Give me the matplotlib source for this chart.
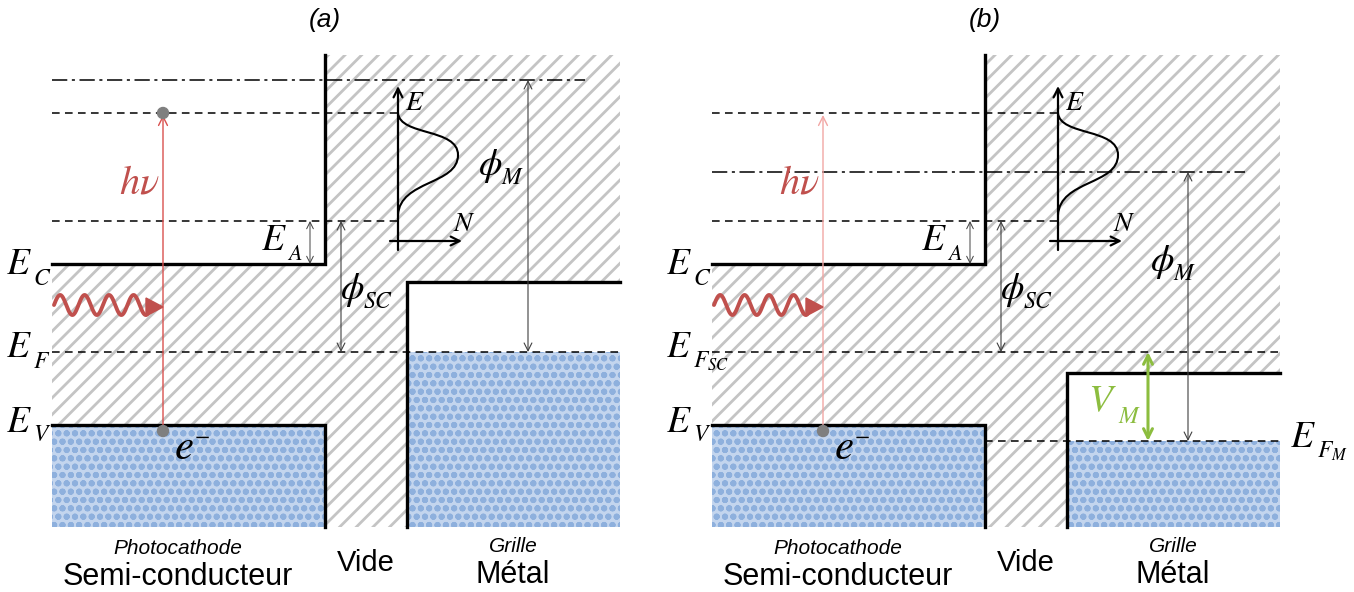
import matplotlib
matplotlib.use('Agg')
import matplotlib.pyplot as plt
from matplotlib.patches import Polygon, Rectangle, FancyArrowPatch, PathPatch, Circle
from matplotlib.path import Path
import numpy as np

plt.rcParams['mathtext.fontset'] = 'stix'
plt.rcParams['hatch.linewidth'] = 2.0

# ---------------- data: energy levels (vertical position, top = high energy) ----
panel_titles = ['(a)', '(b)']
panel_offsets = [0, 660]
E_excited = [113, 113]      # excited electron level (dashed)
E_vac_metal = [80, 172]     # metal vacuum level (dash-dot)
E_vac_sc = [221, 221]       # SC vacuum level (dashed)
E_C = [264, 264]            # conduction band
E_F_sc = [352, 352]         # SC Fermi level
E_V = [425, 425]            # valence band
E_metal_top = [282, 373]    # metal band top
E_F_metal = [352, 441]      # metal Fermi level
show_top_dot = [True, False]
photon_colors = ['#d9504e', '#f2a6a4']
fermi_subs = [r'$F$', r'$F_{SC}$']

# DOS curve control points (x, y) relative to panel
dos_path_pts = [(398, 113), (400, 136), (458, 128), (458, 155),
                (458, 185), (400, 180), (398, 215)]

# ---------------- layout -------------------------------------------------------
x_left, x_sc, x_metal, x_right = 52, 325, 407, 620
y_top, y_bot = 55, 527

fig = plt.figure(figsize=(13.54, 5.92), dpi=100)
ax = fig.add_axes([0, 0, 1, 1])
ax.set_xlim(0, 1354)
ax.set_ylim(592, 0)
ax.axis('off')

hatch_gray = '#c4c4c4'
blue_face = '#c3d5ee'
blue_hatch = '#8eb0dd'
sans = 'Liberation Sans'

def arrow(x0, y0, x1, y1, style='->', color='#404040', lw=0.8, ms=14, z=6):
    a = FancyArrowPatch((x0, y0), (x1, y1), arrowstyle=style, mutation_scale=ms,
                        color=color, lw=lw, shrinkA=0, shrinkB=0, zorder=z)
    ax.add_patch(a)

def label(x, y, main, sub, size=25, subsize=16, dx=None, dy=12, color='black'):
    ax.text(x, y, '$' + main + '$', fontsize=size, ha='left', va='center', color=color, zorder=8)
    if dx is None:
        dx = size * 1.05
    ax.text(x + dx, y + dy, sub, fontsize=subsize, ha='left', va='center', color=color, zorder=8)

for i, off in enumerate(panel_offsets):
    X = lambda v: v + off
    # hatched region (band gap of SC + vacuum)
    poly = [(X(x_left), E_C[i]), (X(x_sc), E_C[i]), (X(x_sc), y_top), (X(x_right), y_top),
            (X(x_right), E_metal_top[i]), (X(x_metal), E_metal_top[i]), (X(x_metal), y_bot),
            (X(x_left), y_bot)]
    ax.add_patch(Polygon(poly, closed=True, facecolor='white', edgecolor=hatch_gray,
                         hatch='//', lw=0, zorder=1))
    # valence band filled
    ax.add_patch(Rectangle((X(x_left), E_V[i]), x_sc - x_left, y_bot - E_V[i],
                           facecolor=blue_face, edgecolor=blue_hatch, hatch='oo', lw=0, zorder=2))
    # metal: empty part + filled part
    ax.add_patch(Rectangle((X(x_metal), E_metal_top[i]), x_right - x_metal,
                           E_F_metal[i] - E_metal_top[i], facecolor='white', lw=0, zorder=2))
    ax.add_patch(Rectangle((X(x_metal), E_F_metal[i]), x_right - x_metal,
                           y_bot - E_F_metal[i], facecolor=blue_face, edgecolor=blue_hatch,
                           hatch='oo', lw=0, zorder=2))
    # thick band edges
    ax.plot([X(x_left), X(x_sc), X(x_sc)], [E_C[i], E_C[i], y_top], color='black', lw=2.4,
            solid_joinstyle='miter', zorder=5)
    ax.plot([X(x_left), X(x_sc), X(x_sc)], [E_V[i], E_V[i], y_bot], color='black', lw=2.4,
            solid_joinstyle='miter', zorder=5)
    ax.plot([X(x_metal), X(x_metal), X(x_right)], [y_bot, E_metal_top[i], E_metal_top[i]],
            color='black', lw=2.4, solid_joinstyle='miter', zorder=5)
    # dashed levels
    dkw = dict(color='black', lw=1.1, dashes=(5, 3.5), zorder=4)
    ax.plot([X(x_left), X(400)], [E_excited[i]] * 2, **dkw)
    ax.plot([X(x_left), X(400)], [E_vac_sc[i]] * 2, **dkw)
    ax.plot([X(x_left), X(x_right)], [E_F_sc[i]] * 2, **dkw)
    if E_F_metal[i] != E_F_sc[i]:
        ax.plot([X(x_sc), X(x_right)], [E_F_metal[i]] * 2, **dkw)
    ax.plot([X(x_left), X(585)], [E_vac_metal[i]] * 2, color='black', lw=1.1,
            dashes=(10, 3, 2, 3), zorder=4)
    # photon absorption arrow
    arrow(X(163), E_V[i] + 6, X(163), E_excited[i] + 2, color=photon_colors[i], lw=1.0, ms=16)
    ax.add_patch(Circle((X(163), E_V[i] + 6), 5.5, color='#7f7f7f', zorder=7))
    if show_top_dot[i]:
        ax.add_patch(Circle((X(163), E_excited[i]), 5.5, color='#7f7f7f', zorder=7))
    ax.text(X(139), 183, r'$h\nu$', color='#c0504d', fontsize=29, ha='center', va='center',
            zorder=8)
    # E_A
    arrow(X(310), E_vac_sc[i], X(310), E_C[i], style='<->', lw=0.7, ms=12)
    label(X(261), 240, 'E', r'$A$', size=27, subsize=16, dx=26, dy=14)
    # phi_SC
    arrow(X(341), E_vac_sc[i], X(341), E_F_sc[i], style='<->', lw=0.8, ms=14)
    label(X(340), 290, r'\phi', r'$SC$', size=27, subsize=17, dx=23, dy=11)
    # phi_M
    arrow(X(528), E_vac_metal[i], X(528), E_F_metal[i], style='<->', lw=0.8, ms=14)
    phi_pos = [(478, 166), (490, 262)][i]
    label(X(phi_pos[0]), phi_pos[1], r'\phi', r'$M$', size=27, subsize=17, dx=23, dy=11)
    # DOS inset
    arrow(X(398), 250, X(398), 86, lw=1.6, ms=16, color='black')
    arrow(X(390), 241, X(462), 241, lw=1.6, ms=16, color='black')
    pts = [(X(px), py) for px, py in dos_path_pts]
    codes = [Path.MOVETO, Path.CURVE4, Path.CURVE4, Path.CURVE4, Path.CURVE4, Path.CURVE4,
             Path.CURVE4]
    ax.add_patch(PathPatch(Path(pts, codes), facecolor='none', edgecolor='black', lw=1.5,
                           zorder=6))
    ax.text(X(405), 102, r'$E$', fontsize=20, ha='left', va='center', zorder=8)
    ax.text(X(453), 223, r'$N$', fontsize=20, ha='left', va='center', zorder=8)
    # wavy photon
    xs = np.linspace(X(x_left + 2), X(148), 200)
    ys = 305 - 10 * np.sin((xs - X(x_left + 2)) / (X(148) - X(x_left + 2)) * 4 * 2 * np.pi * 0.96)
    ax.plot(xs, ys, color='#c0504d', lw=2.8, zorder=6, solid_capstyle='round')
    ax.add_patch(Polygon([(X(146), 298), (X(163), 307), (X(146), 316)], closed=True,
                         color='#c0504d', zorder=6))
    # band labels
    lx = X(6)
    label(lx, 264, 'E', r'$C$', size=27, subsize=17, dx=27, dy=14)
    label(lx, 347, 'E', fermi_subs[i], size=27, subsize=17, dx=27, dy=14)
    label(lx, 422, 'E', r'$V$', size=27, subsize=17, dx=27, dy=12)
    ax.text(X(174), 447, r'$e$', fontsize=31, ha='left', va='center', zorder=8)
    ax.text(X(194), 436, r'$-$', fontsize=16, ha='left', va='center', zorder=8)
    # bottom labels
    cx = X(178)
    ax.text(cx, 549, 'Photocathode', fontsize=15, style='italic', family=sans,
            ha='center', va='center')
    ax.text(cx, 577, 'Semi-conducteur', fontsize=22, family=sans, ha='center', va='center')
    ax.text(X(366), 563, 'Vide', fontsize=21, family=sans, ha='center', va='center')
    ax.text(X(513), 547, 'Grille', fontsize=15, style='italic', family=sans,
            ha='center', va='center')
    ax.text(X(513), 575, 'Métal', fontsize=22, family=sans, ha='center', va='center')
    ax.text(X(325), 20, panel_titles[i], fontsize=19, style='italic', family=sans,
            ha='center', va='center')

# panel (b) specific: V_M and E_FM
off = panel_offsets[1]
arrow(off + 488, E_F_sc[1], off + 488, E_F_metal[1], style='<->', color='#8cbd3f', lw=2.2, ms=16)
label(off + 428, 400, 'V', r'$M$', size=28, subsize=17, dx=30, dy=16, color='#8cbd3f')
label(off + 630, 437, 'E', r'$F_M$', size=27, subsize=17, dx=27, dy=14)

fig.savefig('out.png', dpi=100)
